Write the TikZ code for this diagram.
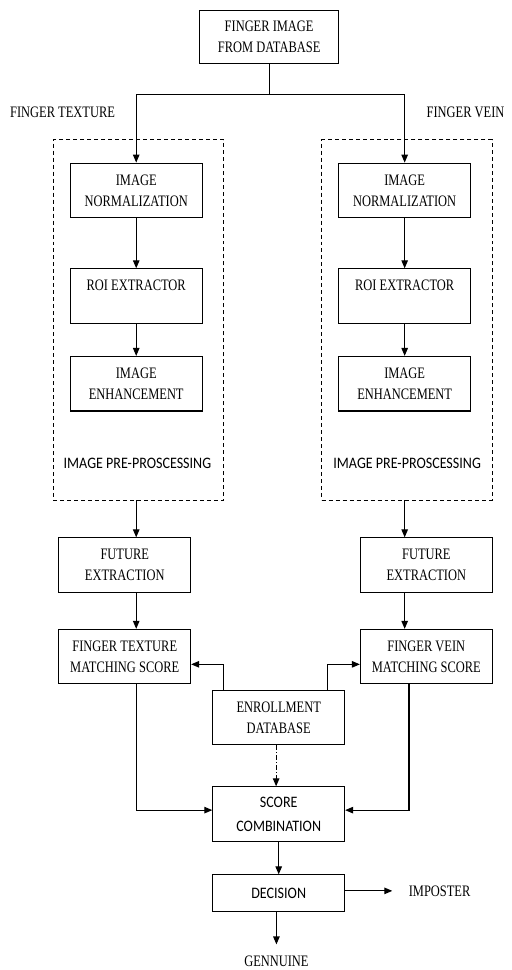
\documentclass[tikz,border=0pt]{standalone}
\usepackage{fontspec}
\newfontfamily\serfont{Liberation Serif}[FakeStretch=0.78]
\newfontfamily\calfont{Carlito}[FakeStretch=0.88]
\usetikzlibrary{arrows.meta}

\tikzset{
  blk/.style={draw, line width=1.1pt, minimum width=132pt, minimum height=54.6pt, align=center, inner sep=0pt},
  arr/.style={line width=1.1pt, -{Triangle[length=8pt,width=6.5pt]}},
  ln/.style={line width=1.1pt},
  grp/.style={draw, line width=0.8pt, dash pattern=on 4pt off 3pt, minimum width=171pt, minimum height=361pt},
  sans/.style={font=\calfont\fontsize{16}{24}\selectfont},
}

\begin{document}
\begin{tikzpicture}[x=1pt, y=-1pt, every node/.style={font=\serfont\fontsize{16}{21}\selectfont}]
  \fill[white] (0,0) rectangle (513,970);

  % Source and branch labels
  \node[blk, minimum width=139pt, minimum height=53pt] (src) at (269.7,37.3) {FINGER IMAGE\\FROM DATABASE};
  \coordinate (split) at (269.7,95);
  \node (lblL) at (62.7,112.7) {FINGER TEXTURE};
  \node (lblR) at (466.5,112.7) {FINGER VEIN};

  % Pre-processing, features and matching for each branch
  \foreach \s/\cx/\px/\fx/\mt in {L/136.5/137.7/125/FINGER TEXTURE, R/405.5/408/427.2/FINGER VEIN} {
    \node[grp] (pre\s) at (\cx+2.3,320.5) {};
    \node[blk] (norm\s) at (\cx,190.8) {IMAGE\\NORMALIZATION};
    \node[blk] (roi\s) at (\cx,296.7) {ROI EXTRACTOR\\\mbox{}};
    \node[blk] (enh\s) at (\cx,384.5) {IMAGE\\ENHANCEMENT};
    \node[sans] (ptxt\s) at (\px,464.3) {IMAGE PRE-PROSCESSING};
    \node[blk] (feat\s) at (\fx,566.3) {FUTURE\\EXTRACTION};
    \node[blk] (match\s) at (\fx,658) {\mt\\MATCHING SCORE};

    \draw[arr] (split) -| (norm\s);
    \draw[arr] (norm\s) -- (roi\s);
    \draw[arr] (roi\s) -- (enh\s);
    \draw[arr] (pre\s.south -| norm\s) -- (feat\s.north -| norm\s);
    \draw[arr] (feat\s.south -| norm\s) -- (match\s.north -| norm\s);
  }
  \draw[ln] (src) -- (split);

  % Enrollment, fusion and decision
  \node[blk] (enroll) at (279.3,718.8) {ENROLLMENT\\DATABASE};
  \node[blk, sans] (comb) at (279.3,815.8) {SCORE\\COMBINATION};
  \node[blk, sans, minimum height=37pt] (dec) at (279.3,895.2) {DECISION};
  \node (imp) at (440.5,892.7) {IMPOSTER};
  \node (gen) at (277,963.3) {GENNUINE};

  \draw[arr] ([xshift=-55.3pt]enroll.north) |- ([yshift=-7.7pt]matchL.east);
  \draw[arr] ([xshift=49pt]enroll.north) |- ([yshift=-7.7pt]matchR.west);
  \draw[arr] (matchL.south -| normL) |- ([yshift=4pt]comb.west);
  \draw[arr] ([xshift=-17.4pt]matchR.south) |- ([yshift=4pt]comb.east);
  \draw[arr, dash pattern=on 5pt off 2pt on 1pt off 2pt] ([xshift=-2.6pt]enroll.south) -- ([xshift=-2.6pt]comb.north);
  \draw[arr] (comb) -- (dec);
  \draw[arr] (dec.east |- imp.west) -- ([xshift=-13pt]imp.west);
  \draw[arr] (dec.south -| gen) -- ([yshift=8pt]gen.north);
\end{tikzpicture}
\end{document}
